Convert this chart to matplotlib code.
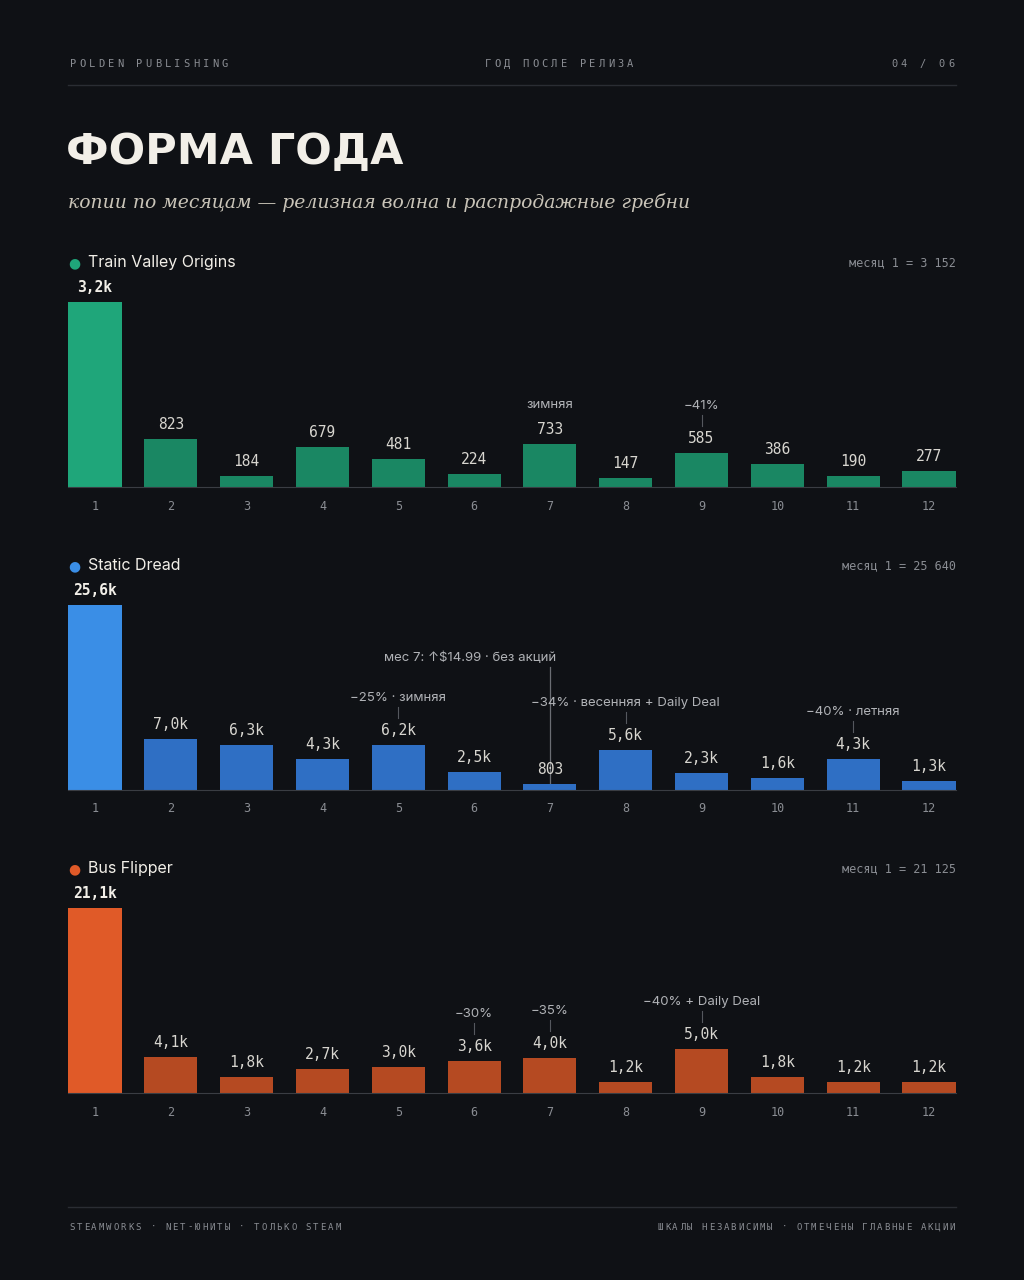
import matplotlib.pyplot as plt
import matplotlib.lines as mlines

BG = "#0f1115"
FG = "#f2efe8"
MUTED = "#8a8d93"
GRID = "#2a2d33"

months = list(range(1, 13))

names = ["Train Valley Origins", "Static Dread", "Bus Flipper"]
totals = ["месяц 1 = 3 152", "месяц 1 = 25 640", "месяц 1 = 21 125"]
train_vals = [3152, 823, 184, 679, 481, 224, 733, 147, 585, 386, 190, 277]
static_vals = [25640, 7000, 6300, 4300, 6200, 2500, 803, 5600, 2300, 1600, 4300, 1300]
bus_vals = [21125, 4100, 1800, 2700, 3000, 3600, 4000, 1200, 5000, 1800, 1200, 1200]
train_labels = ["3,2k", "823", "184", "679", "481", "224", "733", "147", "585", "386", "190", "277"]
static_labels = ["25,6k", "7,0k", "6,3k", "4,3k", "6,2k", "2,5k", "803", "5,6k", "2,3k", "1,6k", "4,3k", "1,3k"]
bus_labels = ["21,1k", "4,1k", "1,8k", "2,7k", "3,0k", "3,6k", "4,0k", "1,2k", "5,0k", "1,8k", "1,2k", "1,2k"]
# (month, text, tick?) annotations
train_notes = [(7, "зимняя", False), (9, "−41%", True)]
static_notes = [(5, "−25% · зимняя", True), (8, "−34% · весенняя + Daily Deal", True),
                (11, "−40% · летняя", True)]
bus_notes = [(6, "−30%", True), (7, "−35%", True), (9, "−40% + Daily Deal", True)]

series = [
    (train_vals, train_labels, train_notes, "#1fa67a", "#1a8763"),
    (static_vals, static_labels, static_notes, "#3a8ee6", "#2f6fc4"),
    (bus_vals, bus_labels, bus_notes, "#e05a28", "#b54a22"),
]

W, H = 1024, 1280
fig = plt.figure(figsize=(W / 100, H / 100), dpi=100, facecolor=BG)


def fx(px):
    return px / W


def fy(py):
    return 1 - py / H


MONO = "DejaVu Sans Mono"
SANS = ["Inter", "DejaVu Sans"]


def tracked(s, x, y, pitch, size, align="left"):
    # draw letter-spaced text char by char at a fixed pitch (px)
    width = pitch * len(s)
    if align == "right":
        x = x - width
    elif align == "center":
        x = x - width / 2
    for k, ch in enumerate(s):
        fig.text(fx(x + pitch * k + pitch / 2), fy(y), ch, color=MUTED, fontsize=size,
                 family=MONO, va="center", ha="center")


# header
tracked("POLDEN PUBLISHING", 68, 64, 9.5, 7.5)
tracked("ГОД ПОСЛЕ РЕЛИЗА", 559, 64, 9.5, 7.5, "center")
tracked("04 / 06", 956, 64, 9.5, 7.5, "right")
fig.add_artist(mlines.Line2D([fx(68), fx(956)], [fy(85), fy(85)], color=GRID, lw=1))
fig.text(fx(66), fy(152), "ФОРМА ГОДА", color=FG, fontsize=31, fontweight="bold",
         family=["DejaVu Sans"], va="center")
fig.text(fx(68), fy(203), "копии по месяцам — релизная волна и распродажные гребни",
         color="#c9c4b8", fontsize=13.5, style="italic", family=["DejaVu Serif"], va="center")

baselines = [487, 790, 1093]
for i, (vals, labels, notes, c1, c2) in enumerate(series):
    base = baselines[i]
    ax = fig.add_axes([fx(68), fy(base), fx(956) - fx(68), 185 / H])
    ax.set_facecolor("none")
    colors = [c1] + [c2] * 11
    ax.bar(months, vals, width=0.7, color=colors, zorder=2)
    ax.set_xlim(1 - 0.356, 12 + 0.356)
    ax.set_ylim(0, vals[0])
    for s in ["top", "right", "left"]:
        ax.spines[s].set_visible(False)
    ax.spines["bottom"].set_color("#3a3d43")
    ax.set_yticks([])
    ax.set_xticks(months)
    ax.set_xticklabels([str(m) for m in months], color=MUTED, family=MONO, fontsize=8.5)
    ax.tick_params(axis="x", length=0, pad=9)
    unit = vals[0] / 185.0
    for m, v, lab in zip(months, vals, labels):
        ax.text(m, v + 7 * unit, lab, ha="center", va="bottom", clip_on=False,
                color=FG if m == 1 else "#d8d6d0", family=MONO,
                fontsize=10.5, fontweight="bold" if m == 1 else "normal")
    for m, txt, tick in notes:
        v = vals[m - 1]
        y0 = v + 27 * unit
        if tick:
            ax.plot([m, m], [y0, y0 + 11 * unit], color="#55585e", lw=0.8, clip_on=False)
            ty = y0 + 14 * unit
        else:
            ty = y0 + 6 * unit
        ax.text(m, ty, txt, ha="center", va="bottom", color="#b0b2b6",
                family=SANS, fontsize=9.5, clip_on=False)
    if i == 1:
        v = vals[6]
        ax.plot([7, 7], [v, v + 117 * unit], color="#6a6d73", lw=0.9, clip_on=False, zorder=1)
        ax.text(7.08, v + 120 * unit, "мес 7: ↑$14.99 · без акций", ha="right",
                va="bottom", color="#b0b2b6", family=SANS, fontsize=9.5, clip_on=False)
    # legend row
    top = base - 224
    fig.text(fx(68), fy(top), "●", color=c1, fontsize=10, family=["DejaVu Sans"], va="center")
    fig.text(fx(88), fy(top), names[i], color=FG, fontsize=11.5, family=SANS, va="center")
    fig.text(fx(956), fy(top), totals[i], color=MUTED, fontsize=8.5, family=MONO,
             va="center", ha="right")

fig.add_artist(mlines.Line2D([fx(68), fx(956)], [fy(1207), fy(1207)], color=GRID, lw=1))
tracked("STEAMWORKS · NET-ЮНИТЫ · ТОЛЬКО STEAM", 68, 1227, 7.4, 6.5)
tracked("ШКАЛЫ НЕЗАВИСИМЫ · ОТМЕЧЕНЫ ГЛАВНЫЕ АКЦИИ", 956, 1227, 7.3, 6.5, "right")

fig.savefig("out.png", dpi=100, facecolor=BG)
